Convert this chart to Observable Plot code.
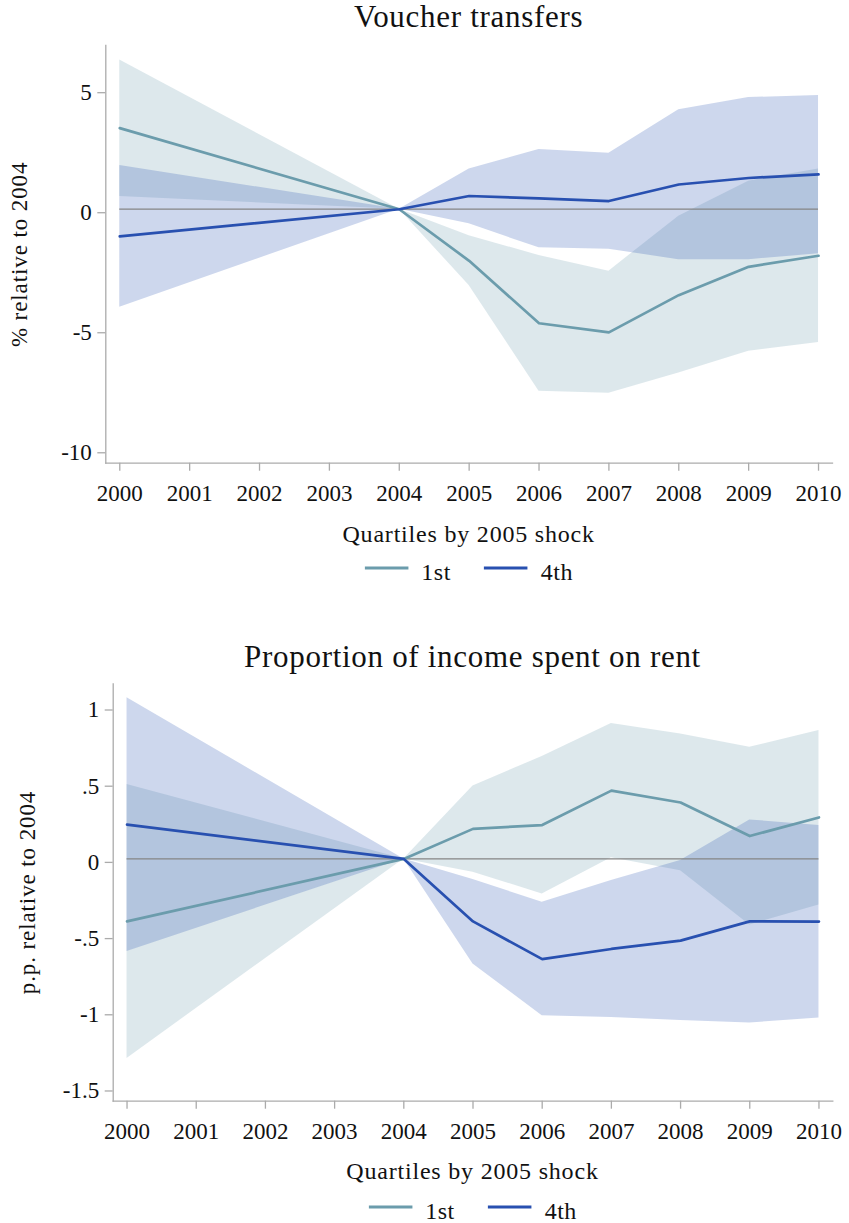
<!DOCTYPE html>
<html>
<head>
<meta charset="utf-8">
<script src="https://cdn.jsdelivr.net/npm/d3@7"></script>
<script src="https://cdn.jsdelivr.net/npm/@observablehq/plot@0.6"></script>
<style>
  body { margin: 0; background: #fff; }
  #page { position: relative; width: 849px; height: 1223px; overflow: hidden;
          font-family: "Liberation Serif", "Times New Roman", serif; color: #111; }
  .abs { position: absolute; white-space: nowrap; line-height: 1; font-family: "Liberation Serif", serif; }
  .title { font-size: 31px; letter-spacing: 0.7px; transform: translateX(-50%); }
  .legtitle { font-size: 24px; letter-spacing: 0.8px; transform: translateX(-50%); }
  .legend { display: flex; align-items: center; font-size: 24px; transform: translateX(-50%); }
  .legend span { font-family: "Liberation Serif", serif; letter-spacing: 0.5px; }
  .legend svg { position: relative; top: -4px; }
  .plotbox { position: absolute; left: 0; }
  .plotbox svg { overflow: visible; }
  .plotbox svg text { font-family: "Liberation Serif", serif !important; }
  g[aria-label="y-axis label"] text { letter-spacing: 0.9px; }
</style>
</head>
<body>
<div id="page"></div>
<script>
// Event-study estimates by year, relative to 2004, with 95% confidence bands
const years = [2000, 2004, 2005, 2006, 2007, 2008, 2009, 2010];
const xTicks = [2000, 2001, 2002, 2003, 2004, 2005, 2006, 2007, 2008, 2009, 2010];
const groups = ["1st", "4th"];
const groupColors = ["#6b9cac", "#2850b0"];

// Voucher transfers (% relative to 2004)
const voucherFirst   = [3.38, 0, -2.15, -4.75, -5.13, -3.58, -2.40, -1.94];
const voucherFirstLo = [0.53, 0, -3.18, -7.58, -7.67, -6.82, -5.92, -5.55];
const voucherFirstHi = [6.22, 0, -1.10, -1.93, -2.58, -0.29, 1.17, 1.68];
const voucherFourth   = [-1.13, 0, 0.55, 0.45, 0.34, 1.03, 1.30, 1.45];
const voucherFourthLo = [-4.08, 0, -0.61, -1.61, -1.67, -2.10, -2.10, -1.86];
const voucherFourthHi = [1.82, 0, 1.68, 2.49, 2.33, 4.14, 4.65, 4.74];
const voucherYTicks = [-10, -5, 0, 5];
const voucherYTickLabels = ["-10", "-5", "0", "5"];

// Proportion of income spent on rent (p.p. relative to 2004)
const rentFirst   = [-0.41, 0, 0.197, 0.222, 0.448, 0.370, 0.150, 0.272];
const rentFirstLo = [-1.309, 0, -0.087, -0.230, 0.008, -0.077, -0.434, -0.302];
const rentFirstHi = [0.488, 0, 0.479, 0.672, 0.888, 0.820, 0.733, 0.842];
const rentFourth   = [0.225, 0, -0.410, -0.658, -0.591, -0.536, -0.410, -0.411];
const rentFourthLo = [-0.607, 0, -0.690, -1.029, -1.040, -1.060, -1.077, -1.044];
const rentFourthHi = [1.057, 0, -0.135, -0.285, -0.142, -0.011, 0.256, 0.219];
const rentYTicks = [-1.5, -1, -0.5, 0, 0.5, 1];
const rentYTickLabels = ["-1.5", "-1", "-.5", "0", ".5", "1"];

const axisGray = "#ababab";
const serif = "'Liberation Serif', serif";
const page = document.getElementById("page");

function rowsFor(est, lo, hi, group) {
  return years.map((year, i) => ({year, group, est: est[i], lo: lo[i], hi: hi[i]}));
}

function addText(cls, text, left, top) {
  const d = document.createElement("div");
  d.className = "abs " + cls;
  d.textContent = text;
  d.style.left = left + "px";
  d.style.top = top + "px";
  page.appendChild(d);
  return d;
}

function swatch(color) {
  const ns = "http://www.w3.org/2000/svg";
  const s = document.createElementNS(ns, "svg");
  s.setAttribute("width", 44); s.setAttribute("height", 4);
  const l = document.createElementNS(ns, "line");
  l.setAttribute("x1", 0); l.setAttribute("x2", 44);
  l.setAttribute("y1", 2); l.setAttribute("y2", 2);
  l.setAttribute("stroke", color); l.setAttribute("stroke-width", 2.8);
  s.appendChild(l);
  return s;
}

function addLegend(centerX, titleTop, itemsTop) {
  addText("legtitle", "Quartiles by 2005 shock", centerX, titleTop);
  const leg = document.createElement("div");
  leg.className = "abs legend";
  leg.style.left = centerX + "px";
  leg.style.top = itemsTop + "px";
  groups.forEach((g, i) => {
    const sw = swatch(groupColors[i]);
    sw.style.marginLeft = i === 0 ? "0px" : "33px";
    sw.style.marginRight = "13px";
    leg.appendChild(sw);
    const t = document.createElement("span");
    t.textContent = g;
    leg.appendChild(t);
  });
  page.appendChild(leg);
}

function panel(cfg) {
  const data = [
    ...rowsFor(cfg.first, cfg.firstLo, cfg.firstHi, groups[0]),
    ...rowsFor(cfg.fourth, cfg.fourthLo, cfg.fourthHi, groups[1])
  ];
  const chart = Plot.plot({
    width: 849,
    height: cfg.height,
    marginTop: cfg.marginTop,
    marginBottom: cfg.marginBottom,
    marginLeft: cfg.marginLeft,
    marginRight: cfg.marginRight,
    style: {fontFamily: serif, fontSize: "23px", color: "#111", background: "transparent"},
    x: {domain: [1999.8, 2010.2]},
    y: {domain: cfg.yDomain},
    color: {domain: groups, range: groupColors},
    marks: [
      Plot.areaY(data, {x: "year", y1: "lo", y2: "hi", z: "group", fill: "group", fillOpacity: 0.23}),
      Plot.ruleY([0], {x1: years[0], x2: years[years.length - 1], stroke: "#858585", strokeWidth: 1.3}),
      Plot.lineY(data, {x: "year", y: "est", z: "group", stroke: "group", strokeWidth: 2.7}),
      Plot.frame({anchor: "left", stroke: axisGray, strokeWidth: 1.3}),
      Plot.frame({anchor: "bottom", stroke: axisGray, strokeWidth: 1.3}),
      Plot.axisX({ticks: xTicks, tickFormat: d => String(d), tickSize: 8, tickPadding: 13,
                  stroke: axisGray, strokeWidth: 1.3, fill: "#111", fontSize: 23, label: null}),
      Plot.axisY({ticks: cfg.yTicks, tickFormat: d => cfg.yTickLabels[cfg.yTicks.indexOf(d)],
                  tickSize: 8, tickPadding: 6, dy: 3.5, stroke: axisGray, strokeWidth: 1.3, fill: "#111",
                  fontSize: 23, label: cfg.yLabel, labelAnchor: "center", labelOffset: 95, labelArrow: "none"})
    ]
  });
  const box = document.createElement("div");
  box.className = "plotbox";
  box.style.top = cfg.top + "px";
  box.appendChild(chart);
  page.appendChild(box);

  const centerX = (cfg.marginLeft + 849 - cfg.marginRight) / 2;
  addText("title", cfg.title, centerX, cfg.titleTop);
  addLegend(centerX, cfg.legendTitleTop, cfg.legendItemsTop);
}

panel({
  title: "Voucher transfers", titleTop: 1.3,
  top: 40, height: 480, marginTop: 5, marginBottom: 57.3, marginLeft: 105.3, marginRight: 17,
  yDomain: [-10.58, 6.82], yTicks: voucherYTicks, yTickLabels: voucherYTickLabels,
  yLabel: "% relative to 2004",
  first: voucherFirst, firstLo: voucherFirstLo, firstHi: voucherFirstHi,
  fourth: voucherFourth, fourthLo: voucherFourthLo, fourthHi: voucherFourthHi,
  legendTitleTop: 521.6, legendItemsTop: 560
});

panel({
  title: "Proportion of income spent on rent", titleTop: 641,
  top: 680, height: 480, marginTop: 3.3, marginBottom: 59.3, marginLeft: 112.7, marginRight: 16.7,
  yDomain: [-1.59, 1.149], yTicks: rentYTicks, yTickLabels: rentYTickLabels,
  yLabel: "p.p. relative to 2004",
  first: rentFirst, firstLo: rentFirstLo, firstHi: rentFirstHi,
  fourth: rentFourth, fourthLo: rentFourthLo, fourthHi: rentFourthHi,
  legendTitleTop: 1159.2, legendItemsTop: 1199
});
</script>
</body>
</html>
